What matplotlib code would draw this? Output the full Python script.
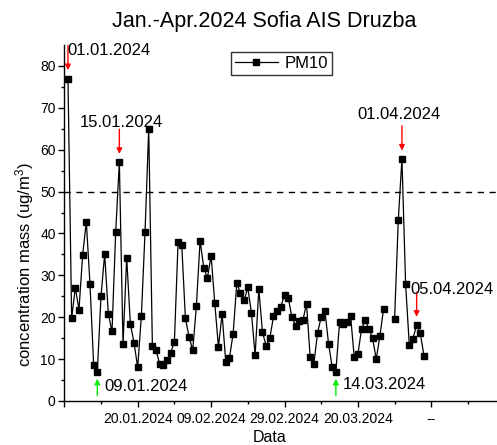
import numpy as np
import matplotlib
matplotlib.use("Agg")
import matplotlib.pyplot as plt

plt.rcParams['font.family'] = ['Liberation Sans', 'DejaVu Sans']
plt.rcParams['mathtext.default'] = 'regular'

# Daily PM10 at Sofia AIS Druzba; day 1 = 01.01.2024 (NaN = missing day)
day = np.arange(1, 99)
pm10 = [77.0, 19.8, 27.0, 21.8, 34.9, 42.8, 27.9, 8.6, 7.0, 25.0,
        35.1, 20.8, 16.6, 40.3, 57.0, 13.6, 34.2, 18.4, 13.9, 8.0,
        20.3, 40.4, 65.0, 13.2, 12.1, 8.8, 8.6, 9.8, 11.5, 14.2,
        37.9, 37.3, 19.7, 15.3, 12.1, 22.8, 38.3, 31.8, 29.4, 34.7,
        23.4, 12.9, 20.8, 9.2, 10.2, 16.1, 28.1, 25.7, 24.0, 27.1,
        20.9, 10.9, 26.8, 16.4, 13.2, 15.0, 20.2, 21.4, 22.5, 25.4,
        24.7, 20.1, 18.0, 19.2, 19.3, 23.2, 10.4, 8.9, 16.2, 20.1,
        21.6, 13.7, 8.1, 7.0, 18.8, 18.4, 18.8, 20.4, 10.4, 11.2,
        17.2, 19.3, 17.2, 15.0, 10.0, 15.6, 22.0, np.nan, np.nan, 19.6,
        43.1, 57.8, 27.9, 13.4, 14.9, 18.1, 16.2, 10.8]
limit = 50

x_ticks = [0, 20, 40, 60, 80, 100]
x_ticklabels = ['', '20.01.2024', '09.02.2024', '29.02.2024', '20.03.2024', '--']

# (label, day index, colour, arrow points down?, text x, text baseline y)
notes = [
    ('01.01.2024', 1, 'red', True, 12.2, 82.6),
    ('15.01.2024', 15, 'red', True, 15.6, 65.4),
    ('01.04.2024', 92, 'red', True, 91.2, 67.3),
    ('05.04.2024', 96, 'red', True, 105.6, 25.5),
    ('09.01.2024', 9, '#00ee00', False, 22.3, 2.5),
    ('14.03.2024', 74, '#00ee00', False, 87.2, 2.9),
]

W, H = 497, 445
fig = plt.figure(figsize=(W / 100, H / 100), dpi=100)
left_px, bottom_px, top_px = 64.3, 401.0, 45.0
xmax = 120
width_px = xmax * 3.67
ax = fig.add_axes([left_px / W, 1 - bottom_px / H, width_px / W, (bottom_px - top_px) / H])

ax.plot(day, pm10, color='black', lw=0.9, marker='s', markersize=4.6,
        markerfacecolor='black', markeredgecolor='black', label='PM10', zorder=3)
ax.axhline(limit, color='black', lw=1.0, linestyle=(0, (4.5, 4.0)), zorder=2)

ax.set_xlim(0, xmax)
ax.set_ylim(0, 85)
ax.set_xticks(x_ticks)
ax.set_xticklabels(x_ticklabels)
ax.set_xticks(np.arange(10, xmax + 1, 20), minor=True)
ax.set_yticks(np.arange(0, 81, 10))
ax.set_yticks(np.arange(5, 85, 10), minor=True)

for s in ['top', 'right']:
    ax.spines[s].set_visible(False)
for s in ['left', 'bottom']:
    ax.spines[s].set_linewidth(1.0)
ax.tick_params(axis='both', which='major', direction='out', length=4.2, width=1.0,
               labelsize=10, pad=2.0)
ax.tick_params(axis='x', which='major', pad=4.0)
ax.tick_params(axis='both', which='minor', direction='out', length=2.2, width=1.0)

pm = np.array(pm10)
for label, idx, col, down, tx, ty in notes:
    v = pm[idx - 1]
    if down:
        head, tail = v + 2.0, v + 7.9
    else:
        head, tail = v - 1.7, v - 5.7
    ax.annotate('', xy=(idx, head), xytext=(idx, tail),
                arrowprops=dict(arrowstyle='-|>', color=col, lw=1.0,
                                mutation_scale=8, shrinkA=0, shrinkB=0),
                annotation_clip=False, zorder=4)
    ax.text(tx, ty, label, ha='center', va='baseline', fontsize=12,
            color='black', clip_on=False, zorder=5)

leg = ax.legend(loc='center', bbox_to_anchor=(281.5 / W, 1 - 63.4 / H),
                bbox_transform=fig.transFigure, fontsize=12, frameon=True,
                fancybox=False, handlelength=2.6, handletextpad=0.4,
                borderpad=0.25, borderaxespad=0)
leg.get_frame().set_edgecolor('black')
leg.get_frame().set_linewidth(1.0)

fig.text(264.5 / W, 1 - 22 / H, 'Jan.-Apr.2024 Sofia AIS Druzba', ha='center',
         va='center', fontsize=15.5)
fig.text(270 / W, 1 - 441.5 / H, 'Data', ha='center', va='baseline', fontsize=11.5)
fig.text(25 / W, 1 - 265 / H, 'concentration mass (ug/m$^3$)', ha='center',
         va='center', rotation=90, fontsize=12)

fig.savefig('out.png', dpi=100)
